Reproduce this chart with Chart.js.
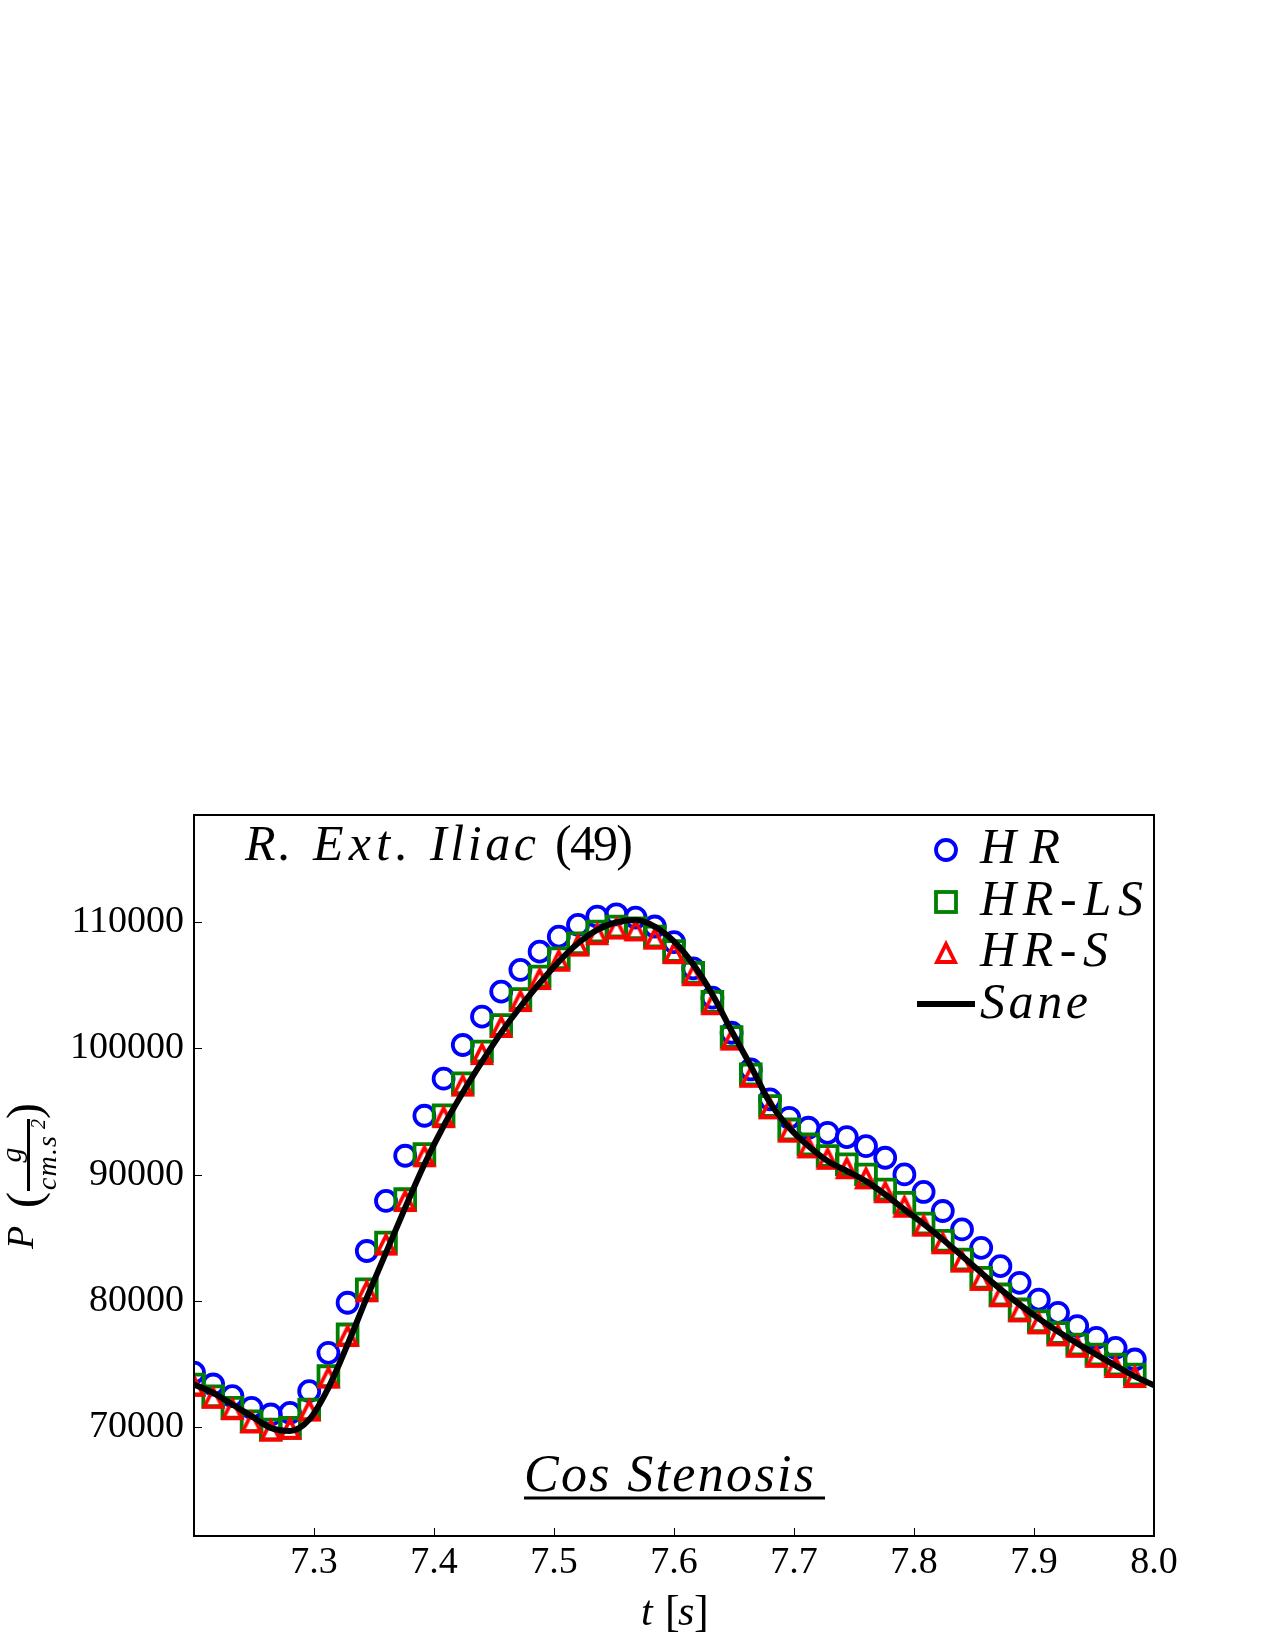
<!DOCTYPE html>
<html>
<head>
<meta charset="utf-8">
<script src="https://cdn.jsdelivr.net/npm/chart.js@4.4.1/dist/chart.umd.min.js"></script>
<style>
  html, body { margin: 0; padding: 0; background: #fff; }
  #chart { display: block; }
</style>
</head>
<body>
<canvas id="chart" width="1275" height="1650"></canvas>
<script>
// Sample times (s)
const times = [7.200, 7.216, 7.232, 7.248, 7.264, 7.280, 7.296, 7.312, 7.328, 7.344,
               7.360, 7.376, 7.392, 7.408, 7.424, 7.440, 7.456, 7.472, 7.488, 7.504,
               7.520, 7.536, 7.552, 7.568, 7.584, 7.600, 7.616, 7.632, 7.648, 7.664,
               7.680, 7.696, 7.712, 7.728, 7.744, 7.760, 7.776, 7.792, 7.808, 7.824,
               7.840, 7.856, 7.872, 7.888, 7.904, 7.920, 7.936, 7.952, 7.968, 7.984];
const saneTimes = times.concat([8.0]);

// Pressure (g / cm.s^2)
const hrValues = [74300, 73360, 72430, 71510, 70980, 71110, 72830, 75870, 79840, 83940,
                  87910, 91490, 94660, 97600, 100270, 102520, 104500, 106220, 107670, 108860,
                  109790, 110450, 110630, 110370, 109660, 108420, 106340, 104020, 101240, 98330,
                  95960, 94500, 93710, 93310, 92970, 92250, 91330, 90010, 88620, 87110,
                  85650, 84190, 82740, 81420, 80090, 79040, 77990, 77060, 76260, 75340];
const hrlsValues = [73360, 72430, 71510, 70450, 69790, 69920, 71380, 74020, 77330, 80900,
                    84610, 88050, 91620, 94700, 97230, 99750, 101860, 103920, 105690, 107150,
                    108330, 109260, 109660, 109520, 108860, 107720, 106000, 103700, 100900, 97940,
                    95430, 93580, 92390, 91470, 90810, 90010, 88820, 87760, 86120, 84750,
                    83270, 81820, 80500, 79310, 78380, 77450, 76530, 75740, 74940, 74150];
const hrsValues = [73250, 72300, 71400, 70350, 69700, 69850, 71300, 73900, 77200, 80750,
                   84450, 87900, 91450, 94550, 97050, 99550, 101700, 103750, 105500, 106950,
                   108150, 109050, 109500, 109350, 108700, 107550, 105800, 103500, 100700, 97750,
                   95250, 93400, 92150, 91250, 90500, 89700, 88600, 87450, 85950, 84550,
                   83100, 81650, 80350, 79150, 78200, 77250, 76350, 75550, 74750, 73950];
const saneValues = [73360, 72700, 71770, 70850, 69920, 69680, 70580, 73100, 76540, 80240,
                    83810, 87380, 90820, 93850, 96500, 98950, 101250, 103300, 105160, 106880,
                    108330, 109390, 110000, 110180, 109660, 108480, 106660, 104280, 101380, 98600,
                    95690, 93710, 92260, 91070, 90280, 89480, 88420, 87230, 86080, 84850,
                    83550, 82220, 80920, 79700, 78580, 77560, 76620, 75730, 74860, 74000,
                    73300];

// Axis ticks
const xTicks = [7.3, 7.4, 7.5, 7.6, 7.7, 7.8, 7.9, 8.0];
const yTicks = [70000, 80000, 90000, 100000, 110000];

const seriesNames = ['HR', 'HR-LS', 'HR-S', 'Sane'];

function toPoints(xs, ys) {
  return xs.map((x, i) => ({ x: x, y: ys[i] }));
}

// matplotlib style '^' marker (hollow, width == height)
function makeTriangle(half, lw, color) {
  const size = Math.ceil(2 * half + 18);
  const c = document.createElement('canvas');
  c.width = size;
  c.height = size;
  const g = c.getContext('2d');
  const m = size / 2;
  g.strokeStyle = color;
  g.lineWidth = lw;
  g.lineJoin = 'miter';
  g.beginPath();
  g.moveTo(m, m - half);
  g.lineTo(m - half, m + half);
  g.lineTo(m + half, m + half);
  g.closePath();
  g.stroke();
  return c;
}

const triangleMarker = makeTriangle(9, 3.8, '#ff0000');

const SERIF = "'Liberation Serif', 'DejaVu Serif', serif";

// draw text stretched with letter spacing to a target width
function fitText(ctx, text, x, y, width, font) {
  ctx.font = font;
  ctx.letterSpacing = '0px';
  const w = ctx.measureText(text).width;
  const ls = text.length > 1 ? (width - w) / (text.length - 1) : 0;
  ctx.letterSpacing = ls + 'px';
  ctx.fillText(text, x, y);
  ctx.letterSpacing = '0px';
}

const decorPlugin = {
  id: 'decor',
  afterDraw(chart) {
    const { ctx, chartArea: a, scales } = chart;
    const xs = scales.x, ys = scales.y;
    ctx.save();
    ctx.fillStyle = '#000';
    ctx.strokeStyle = '#000';

    // inward ticks
    ctx.lineWidth = 1;
    ctx.beginPath();
    xTicks.forEach(v => {
      const px = Math.round(xs.getPixelForValue(v)) + 0.5;
      ctx.moveTo(px, a.bottom);
      ctx.lineTo(px, a.bottom - 8);
    });
    yTicks.forEach(v => {
      const py = Math.round(ys.getPixelForValue(v)) + 0.5;
      ctx.moveTo(a.left, py);
      ctx.lineTo(a.left + 8, py);
    });
    ctx.stroke();

    // frame
    ctx.lineWidth = 2;
    ctx.strokeRect(a.left, a.top, a.right - a.left, a.bottom - a.top);

    // legend
    const lx = 946;
    ctx.lineWidth = 3.8;
    ctx.strokeStyle = '#0000ff';
    ctx.beginPath();
    ctx.arc(lx, 850, 10, 0, Math.PI * 2);
    ctx.stroke();
    ctx.strokeStyle = '#008000';
    ctx.strokeRect(lx - 10, 902 - 10, 20, 20);
    ctx.drawImage(triangleMarker, lx - triangleMarker.width / 2, 953 - triangleMarker.height / 2);
    ctx.strokeStyle = '#000';
    ctx.lineWidth = 6;
    ctx.beginPath();
    ctx.moveTo(917, 1004);
    ctx.lineTo(975, 1004);
    ctx.stroke();

    ctx.textBaseline = 'alphabetic';
    ctx.textAlign = 'left';
    const lf = 'italic 50px ' + SERIF;
    fitText(ctx, seriesNames[0], 980, 863, 80, lf);
    fitText(ctx, seriesNames[1], 980, 915, 163, lf);
    fitText(ctx, seriesNames[2], 980, 966, 128, lf);
    fitText(ctx, seriesNames[3], 980, 1018, 108, lf);

    // title inside the plot
    const tf = 'italic 50px ' + SERIF;
    fitText(ctx, 'R.', 245, 860, 46, tf);
    fitText(ctx, 'Ext.', 313, 860, 95, tf);
    fitText(ctx, 'Iliac', 430, 860, 106, tf);
    fitText(ctx, '(49)', 555, 860, 78, '50px ' + SERIF);

    // Cos Stenosis, underlined
    fitText(ctx, 'Cos Stenosis', 524, 1491, 290, 'italic 52px ' + SERIF);
    ctx.lineWidth = 3;
    ctx.beginPath();
    ctx.moveTo(524, 1498);
    ctx.lineTo(825, 1498);
    ctx.stroke();

    // x axis title: t [s]
    ctx.font = 'italic 42px ' + SERIF;
    ctx.fillText('t', 641, 1625);
    ctx.font = '44px ' + SERIF;
    ctx.fillText('[', 665, 1626);
    ctx.font = 'italic 42px ' + SERIF;
    ctx.fillText('s', 678, 1625);
    ctx.font = '44px ' + SERIF;
    ctx.fillText(']', 694, 1626);

    // y axis title: P (g / cm.s^2), rotated
    ctx.translate(0, 1250);
    ctx.rotate(-Math.PI / 2);
    ctx.font = 'italic 38px ' + SERIF;
    ctx.fillText('P', 1, 33);
    ctx.font = '48px ' + SERIF;
    ctx.fillText('(', 42, 40);
    ctx.fillText(')', 131, 40);
    ctx.lineWidth = 3;
    ctx.beginPath();
    ctx.moveTo(59, 28.5);
    ctx.lineTo(131, 28.5);
    ctx.stroke();
    ctx.textAlign = 'center';
    ctx.font = 'italic 30px ' + SERIF;
    ctx.fillText('g', 95, 21);
    ctx.textAlign = 'left';
    fitText(ctx, 'cm.s', 60, 56, 54, 'italic 28px ' + SERIF);
    ctx.font = 'italic 20px ' + SERIF;
    ctx.fillText('2', 121, 45);

    ctx.restore();
  }
};

const ctx = document.getElementById('chart').getContext('2d');

new Chart(ctx, {
  type: 'scatter',
  data: {
    datasets: [
      {
        label: seriesNames[0],
        data: toPoints(times, hrValues),
        pointStyle: 'circle',
        pointRadius: 10,
        borderWidth: 3.8,
        borderColor: '#0000ff',
        backgroundColor: 'rgba(0,0,0,0)',
        showLine: false,
        clip: 0,
        order: 4
      },
      {
        label: seriesNames[1],
        data: toPoints(times, hrlsValues),
        pointStyle: 'rect',
        pointRadius: 14,
        borderWidth: 3.8,
        borderColor: '#008000',
        backgroundColor: 'rgba(0,0,0,0)',
        showLine: false,
        clip: 0,
        order: 3
      },
      {
        label: seriesNames[2],
        data: toPoints(times, hrsValues),
        pointStyle: triangleMarker,
        pointRadius: 10,
        borderColor: '#ff0000',
        backgroundColor: 'rgba(0,0,0,0)',
        showLine: false,
        clip: 0,
        order: 2
      },
      {
        label: seriesNames[3],
        data: toPoints(saneTimes, saneValues),
        showLine: true,
        pointRadius: 0,
        borderWidth: 6,
        borderColor: '#000000',
        cubicInterpolationMode: 'monotone',
        clip: 0,
        order: 1
      }
    ]
  },
  options: {
    responsive: false,
    animation: false,
    devicePixelRatio: 1,
    layout: { padding: { top: 815, right: 121, left: 0, bottom: 0 } },
    plugins: {
      legend: { display: false },
      tooltip: { enabled: false }
    },
    scales: {
      x: {
        type: 'linear',
        min: 7.2,
        max: 8.0,
        grid: { display: false, drawTicks: false },
        border: { display: false },
        afterBuildTicks: (scale) => {
          scale.ticks = xTicks.map(v => ({ value: v }));
        },
        afterFit: (scale) => {
          scale.height = 114;
        },
        ticks: {
          color: '#000',
          font: { family: SERIF, size: 38 },
          padding: 4,
          maxRotation: 0,
          autoSkip: false,
          callback: (v) => Number(v).toFixed(1)
        }
      },
      y: {
        type: 'linear',
        min: 61350,
        max: 118500,
        grid: { display: false, drawTicks: false },
        border: { display: false },
        afterBuildTicks: (scale) => {
          scale.ticks = yTicks.map(v => ({ value: v }));
        },
        afterFit: (scale) => {
          scale.width = 194;
        },
        ticks: {
          color: '#000',
          font: { family: SERIF, size: 38 },
          padding: 10,
          autoSkip: false,
          callback: (v) => String(v)
        }
      }
    }
  },
  plugins: [decorPlugin]
});
</script>
</body>
</html>
